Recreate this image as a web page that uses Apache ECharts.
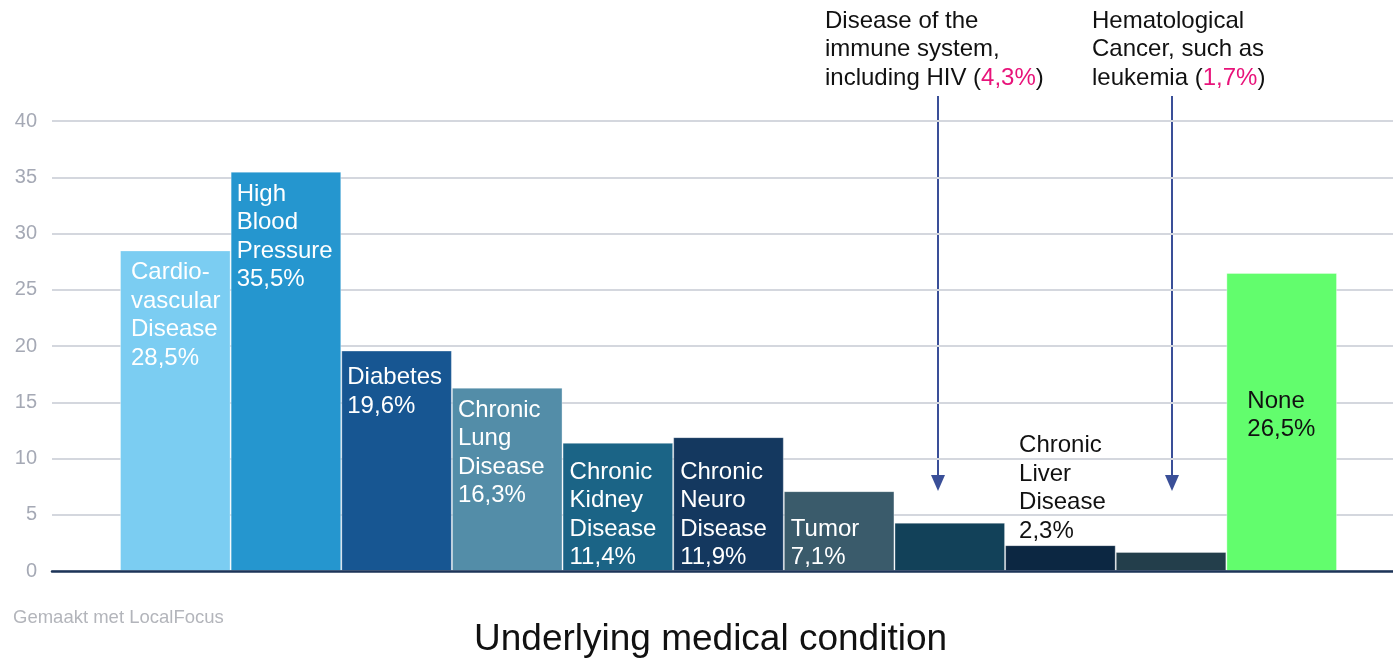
<!DOCTYPE html>
<html>
<head>
<meta charset="utf-8">
<script src="https://cdn.jsdelivr.net/npm/echarts@6/dist/echarts.min.js"></script>
<style>
  html, body { margin: 0; padding: 0; background: #fff; }
  #chart { width: 1393px; height: 660px; }
</style>
</head>
<body>
<div id="chart"></div>
<script>
// categories and values
const categories = [
  "Cardiovascular Disease", "High Blood Pressure", "Diabetes", "Chronic Lung Disease",
  "Chronic Kidney Disease", "Chronic Neuro Disease", "Tumor",
  "Disease of the immune system, including HIV", "Chronic Liver Disease",
  "Hematological Cancer, such as leukemia", "None"
];
const values = [28.5, 35.5, 19.6, 16.3, 11.4, 11.9, 7.1, 4.3, 2.3, 1.7, 26.5];
// text shown on each bar ("" = none, the value is added below it)
const barLabels = [
  "Cardio-\nvascular\nDisease", "High\nBlood\nPressure", "Diabetes", "Chronic\nLung\nDisease",
  "Chronic\nKidney\nDisease", "Chronic\nNeuro\nDisease", "Tumor", "",
  "Chronic\nLiver\nDisease", "", "None"
];
const colors = [
  "#7bcdf2", "#2596cf", "#175692", "#538da8", "#1b6486", "#14385f",
  "#3a5b6b", "#124159", "#0c2742", "#233e4b", "#62fd6d"
];
const yTicks = [0, 5, 10, 15, 20, 25, 30, 35, 40];

const pct = v => v.toFixed(1).replace(".", ",") + "%";
const FONT = "'Liberation Sans', Arial, sans-serif";

const chart = echarts.init(document.getElementById("chart"));

const barData = values.map((v, i) => {
  const item = { value: v, itemStyle: { color: colors[i] } };
  if (!barLabels[i]) {
    item.label = { show: false };
  } else if (i === 0) {
    item.label = { padding: [2, 0, 0, 5] };
  } else if (i === 2) {
    item.label = { padding: [7, 0, 0, 0] };
  } else if (i >= 4 && i <= 6) {
    // short bars: text sits on the bottom of the bar
    item.label = { position: "insideBottomLeft", distance: 0, padding: [0, 0, -1, 7] };
  } else if (i === 8) {
    // label sits above the small bar, in black
    item.label = { position: [14, -114], color: "#111", padding: 0 };
  } else if (i === 10) {
    item.label = { position: [21, 114], color: "#111", padding: 0 };
  }
  return item;
});

chart.setOption({
  animation: false,
  textStyle: { fontFamily: FONT },
  grid: [
    { left: 52, right: 0, top: 121, bottom: 89 },
    { left: 120, right: 56, top: 121, bottom: 89 }
  ],
  xAxis: [
    {
      gridIndex: 0, type: "value", min: 0, max: 1, z: 10,
      axisLine: { show: true, lineStyle: { color: "#1d3458", width: 2.5 } },
      axisTick: { show: false }, axisLabel: { show: false }, splitLine: { show: false }
    },
    { gridIndex: 1, type: "category", data: categories, show: false }
  ],
  yAxis: [
    {
      gridIndex: 0, type: "value", min: yTicks[0], max: yTicks[yTicks.length - 1], interval: 5,
      axisLine: { show: false }, axisTick: { show: false },
      axisLabel: { color: "#a5a9b5", fontSize: 20, margin: 15 },
      splitLine: { lineStyle: { color: "#d4d7de", width: 2 } }
    },
    { gridIndex: 1, type: "value", min: 0, max: 40, show: false }
  ],
  series: [
    {
      type: "bar",
      xAxisIndex: 1, yAxisIndex: 1,
      barCategoryGap: 0,
      data: barData,
      itemStyle: { borderColor: "rgba(255,255,255,0.35)", borderWidth: 1 },
      label: {
        show: true,
        position: "insideTopLeft",
        distance: 6,
        padding: [2, 0, 0, 0],
        color: "#fff",
        fontSize: 24,
        lineHeight: 28.5,
        formatter: p => barLabels[p.dataIndex] + "\n" + pct(p.value)
      }
    }
  ],
  graphic: [
    {
      type: "text", left: 825, top: 7,
      style: {
        text: "Disease of the\nimmune system,\nincluding HIV ({p|" + pct(values[7]) + "})",
        fontFamily: FONT, fontSize: 24, lineHeight: 28.5, fill: "#111",
        rich: { p: { fill: "#e8137a", fontFamily: FONT, fontSize: 24 } }
      }
    },
    {
      type: "text", left: 1092, top: 7,
      style: {
        text: "Hematological\nCancer, such as\nleukemia ({p|" + pct(values[9]) + "})",
        fontFamily: FONT, fontSize: 24, lineHeight: 28.5, fill: "#111",
        rich: { p: { fill: "#e8137a", fontFamily: FONT, fontSize: 24 } }
      }
    },
    { type: "line", shape: { x1: 938, y1: 96, x2: 938, y2: 478 }, style: { stroke: "#3a4f98", lineWidth: 2 } },
    { type: "polygon", shape: { points: [[931, 475], [945, 475], [938, 491]] }, style: { fill: "#3a4f98" } },
    { type: "line", shape: { x1: 1172, y1: 96, x2: 1172, y2: 478 }, style: { stroke: "#3a4f98", lineWidth: 2 } },
    { type: "polygon", shape: { points: [[1165, 475], [1179, 475], [1172, 491]] }, style: { fill: "#3a4f98" } },
    {
      type: "text", left: 13, top: 608,
      style: { text: "Gemaakt met LocalFocus", fontFamily: FONT, fontSize: 18.5, fill: "#b3b5bb" }
    },
    {
      type: "text", left: 474, top: 621,
      style: { text: "Underlying medical condition", fontFamily: FONT, fontSize: 37, fill: "#111" }
    }
  ]
});
</script>
</body>
</html>
